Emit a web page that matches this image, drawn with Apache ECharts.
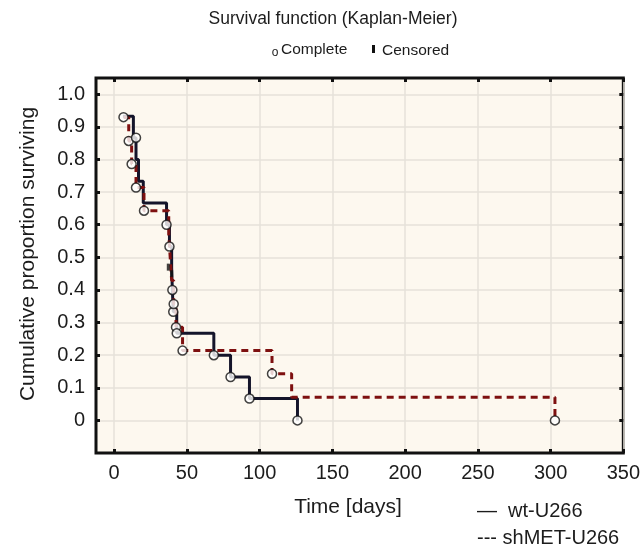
<!DOCTYPE html>
<html>
<head>
<meta charset="utf-8">
<script src="https://cdn.jsdelivr.net/npm/echarts@6/dist/echarts.min.js"></script>
<style>
  html, body { margin: 0; padding: 0; background: #fff; }
  #chart { width: 643px; height: 550px; }
</style>
</head>
<body>
<div id="chart"></div>
<script>
//--------------------- Data ---------------------------//
// wt-U266 (solid): event times [days] and survival after each event
const wtDays = [6, 13.2, 15, 16.7, 20, 36, 38, 39.5, 40, 40.6, 43, 68.5, 80, 93, 126];
const wtSurv = [0.933, 0.867, 0.8, 0.733, 0.667, 0.6, 0.533, 0.467, 0.4, 0.333, 0.267, 0.2, 0.133, 0.067, 0];

// shMET-U266 (dashed)
const shDays = [6.5, 10, 12, 15, 20.5, 37.5, 38.5, 39.5, 40.9, 42.5, 47, 108.5, 122, 303];
const shSurv = [0.929, 0.857, 0.786, 0.714, 0.643, 0.571, 0.5, 0.429, 0.357, 0.286, 0.214, 0.143, 0.071, 0];

// "Complete" circles as they appear on the plot
const compDays = [6.4, 10, 15, 12, 15, 20.5, 36, 38, 40, 40.6, 40.9, 42.5, 43, 47, 68.5, 80, 93, 126, 108.5, 303];
const compSurv = [0.93, 0.857, 0.867, 0.786, 0.714, 0.643, 0.6, 0.533, 0.4, 0.333, 0.357, 0.286, 0.267, 0.214, 0.2, 0.133, 0.067, 0, 0.143, 0];

// "Censored" ticks
const censDays = [37.2, 39.5];
const censSurv = [0.47, 0.45];

// Axis ticks
const xTicks = [0, 50, 100, 150, 200, 250, 300, 350];
const yTicks = [0, 0.1, 0.2, 0.3, 0.4, 0.5, 0.6, 0.7, 0.8, 0.9, 1.0];

//--------------------- Helpers ---------------------------//
const zip = (xs, ys) => xs.map((x, i) => [x, ys[i]]);
const FONT = 'Liberation Sans, Arial, sans-serif';
const TXT = '#1c1c1c';

//--------------------- Chart ---------------------------//
const chartDom = document.getElementById('chart');
const myChart = echarts.init(chartDom);

const tickStyle = { show: true, inside: true, length: 4, lineStyle: { color: '#111', width: 3 } };
const noLine = { show: false, onZero: false };

const option = {
  animation: false,
  backgroundColor: '#ffffff',
  grid: {
    left: 96, top: 78, width: 528, height: 375,
    show: true,
    backgroundColor: '#fdf8ef',
    borderColor: '#111',
    borderWidth: 3
  },
  xAxis: [
    {
      type: 'value', min: -12.5, max: 350,
      axisLine: noLine,
      axisTick: Object.assign({ customValues: xTicks }, tickStyle),
      axisLabel: {
        customValues: xTicks, margin: 10,
        fontFamily: FONT, fontSize: 20, color: TXT
      },
      splitLine: { show: true, lineStyle: { color: '#e6e2da', width: 1.5 } }
    },
    {
      type: 'value', min: -12.5, max: 350, position: 'top',
      axisLine: noLine,
      axisTick: Object.assign({ customValues: xTicks }, tickStyle),
      axisLabel: { show: false },
      splitLine: { show: false }
    }
  ],
  yAxis: [
    {
      type: 'value', min: -0.1, max: 1.05,
      axisLine: noLine,
      axisTick: Object.assign({ customValues: yTicks }, tickStyle),
      axisLabel: {
        customValues: yTicks, margin: 11,
        fontFamily: FONT, fontSize: 20, color: TXT,
        formatter: (v) => (v === 0 ? '0' : v.toFixed(1))
      },
      splitLine: { show: true, lineStyle: { color: '#e6e2da', width: 1.5 } }
    },
    {
      type: 'value', min: -0.1, max: 1.05, position: 'right',
      axisLine: noLine,
      axisTick: Object.assign({ customValues: yTicks }, tickStyle),
      axisLabel: { show: false },
      splitLine: { show: false }
    }
  ],
  series: [
    {
      name: 'wt-U266', type: 'line', step: 'end',
      data: zip(wtDays, wtSurv),
      showSymbol: false, symbol: 'none',
      lineStyle: { color: '#14142a', width: 3 },
      z: 2
    },
    {
      name: 'shMET-U266', type: 'line', step: 'end',
      data: zip(shDays, shSurv),
      showSymbol: false, symbol: 'none',
      lineStyle: { color: '#7e1010', width: 3, type: [7, 5] },
      z: 3
    },
    {
      name: 'Censored', type: 'scatter',
      data: zip(censDays, censSurv),
      symbol: 'rect', symbolSize: [3, 7],
      itemStyle: { color: '#111' },
      z: 4
    },
    {
      name: 'Complete', type: 'scatter',
      data: zip(compDays, compSurv),
      symbol: 'circle', symbolSize: 9,
      itemStyle: { color: '#ffffff', borderColor: '#111', borderWidth: 1.5 },
      z: 5
    }
  ],
  graphic: [
    { type: 'text', x: 333, y: 19, style: { text: 'Survival function (Kaplan-Meier)', font: '17.5px ' + FONT, fill: TXT, align: 'center', verticalAlign: 'middle' } },
    { type: 'text', x: 275, y: 53, style: { text: 'o', font: '12px ' + FONT, fill: TXT, align: 'center', verticalAlign: 'middle' } },
    { type: 'text', x: 281, y: 50, style: { text: 'Complete', font: '15.5px ' + FONT, fill: TXT, align: 'left', verticalAlign: 'middle' } },
    { type: 'rect', shape: { x: 372, y: 45, width: 3, height: 8 }, style: { fill: '#111' } },
    { type: 'text', x: 382, y: 51, style: { text: 'Censored', font: '15.5px ' + FONT, fill: TXT, align: 'left', verticalAlign: 'middle' } },
    { type: 'text', x: 28, y: 254, rotation: Math.PI / 2, style: { text: 'Cumulative proportion surviving', font: '21px ' + FONT, fill: TXT, align: 'center', verticalAlign: 'middle' } },
    { type: 'text', x: 348, y: 507, style: { text: 'Time [days]', font: '21px ' + FONT, fill: TXT, align: 'center', verticalAlign: 'middle' } },
    { type: 'text', x: 477, y: 511, style: { text: '—  wt-U266', font: '20px ' + FONT, fill: TXT, align: 'left', verticalAlign: 'middle' } },
    { type: 'text', x: 477, y: 538, style: { text: '--- shMET-U266', font: '20px ' + FONT, fill: TXT, align: 'left', verticalAlign: 'middle' } }
  ]
};

option && myChart.setOption(option);
</script>
</body>
</html>
